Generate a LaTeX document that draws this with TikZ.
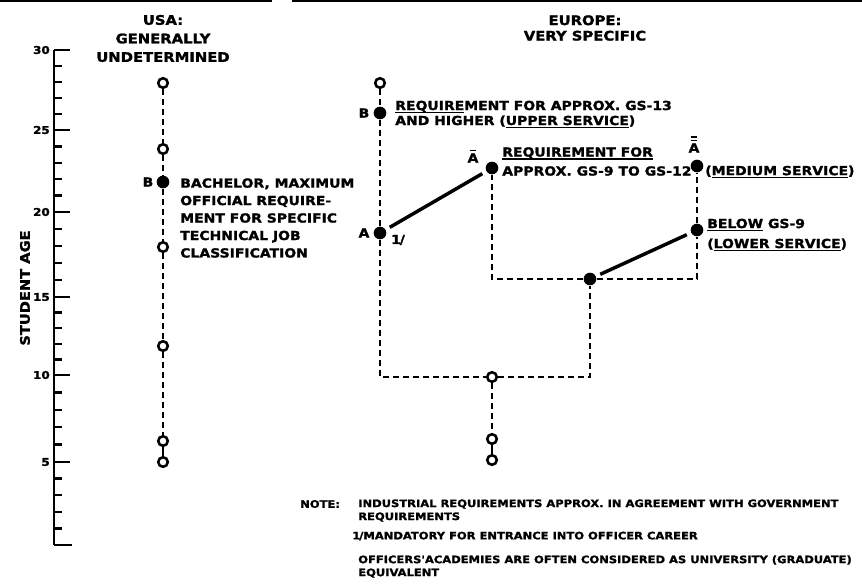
\documentclass[tikz,border=0pt]{standalone}
\usepackage{fontspec}
\setmainfont{DejaVu Sans}
\newfontfamily\labfont{DejaVu Sans Bold}[FakeStretch=1.12,FakeBold=1.6]
\usetikzlibrary{calc}
\newcommand{\ulx}[1]{\setbox0=\hbox{#1}\rlap{\rule[-2.4pt]{\wd0}{1.3pt}}\box0\relax}
\tikzset{
  opencirc/.style={circle, draw=black, line width=1.9pt, fill=white, minimum size=7.2pt, inner sep=0pt},
  fullcirc/.style={circle, fill=black, minimum size=9.5pt, inner sep=0pt},
  dashline/.style={line width=1.5pt, dash pattern=on 4.5pt off 3pt},
  solidline/.style={line width=2.6pt, shorten <=3.5pt, shorten >=3.5pt},
  thinsolid/.style={line width=1.6pt},
  lab/.style={font=\labfont\fontsize{9.35}{13.1}\selectfont, inner sep=0pt, align=left},
  head/.style={font=\labfont\fontsize{9.9}{13.9}\selectfont, inner sep=0pt, align=center},
  notef/.style={font=\labfont\fontsize{7.7}{9.75}\selectfont, inner sep=0pt, align=left},
  axnum/.style={font=\labfont\fontsize{8}{9}\selectfont, inner sep=0pt, anchor=east},
  axisline/.style={line width=1.7pt},
  barline/.style={line width=1.2pt},
}
\begin{document}
\begin{tikzpicture}[x=0.75pt,y=-0.75pt]
\useasboundingbox (0,0) rectangle (862,583);
% top rule
\draw[line width=1.6pt] (0,1) -- (272,1);
\draw[line width=1.6pt] (292,1) -- (862,1);

% axis
\draw[axisline] (54,50) -- (54,545);
\foreach \y in {66,82,98,114,146.4,162.8,179.2,195.6,229,246,263,280,312.6,328.2,343.8,359.4,392.4,409.8,427.2,444.6,478.6,495.2,511.8,528.4}
  \draw[axisline] (54,\y) -- (62,\y);
\foreach \y/\t in {50/30,130/25,212/20,297/15,375/10,462/5}{
  \draw[axisline] (54,\y) -- (70,\y);
  \node[axnum] (ax\t) at (50,\y) {\t};
}
\draw[axisline] (54,545) -- (72,545);
\node[lab, rotate=90, font=\labfont\fontsize{9.8}{12}\selectfont] (ylab) at (25,288) {STUDENT AGE};

% headers
\node[head] (usah) at (163,38.5) {USA:\\GENERALLY\\UNDETERMINED};
\node[head, font=\labfont\fontsize{9.9}{11.6}\selectfont] (euh) at (585,28) {EUROPE:\\VERY SPECIFIC};

% USA column
\node[opencirc] (u28) at (163,83) {};
\node[opencirc] (u24) at (163,149) {};
\node[fullcirc] (uB) at (163,182) {};
\node[opencirc] (u18) at (163,247) {};
\node[opencirc] (u12) at (163,346) {};
\node[opencirc] (u6) at (163,441) {};
\node[opencirc] (u5) at (163,462) {};
\draw[dashline] (u28) -- (u24) -- (uB) -- (u18) -- (u12) -- (u6);
\draw[thinsolid] (u6) -- (u5);
\node[lab] (uBl) at (148,182) {B};
\node[lab, anchor=west] (utext) at (180,218) {BACHELOR, MAXIMUM\\OFFICIAL REQUIRE-\\MENT FOR SPECIFIC\\TECHNICAL JOB\\CLASSIFICATION};

% Europe
\node[opencirc] (e28) at (380,83) {};
\node[fullcirc] (eB) at (380,113) {};
\node[fullcirc] (eA) at (380,233) {};
\coordinate (c1) at (380,377);
\node[opencirc] (e10) at (492,377) {};
\coordinate (c2) at (590,377);
\node[fullcirc] (m16) at (590,279) {};
\coordinate (c3) at (492,279);
\node[fullcirc] (eAbar) at (492,168) {};
\coordinate (c4) at (697,279);
\node[fullcirc] (r19) at (697,230) {};
\node[fullcirc] (rAA) at (697,166) {};
\node[opencirc] (e6) at (492,439) {};
\node[opencirc] (e5) at (492,460) {};

\draw[dashline] (e28) -- (eB) -- (eA) -- (c1) -- (e10) -- (c2) -- (m16);
\draw[dashline] (m16) -- (c3) -- (eAbar);
\draw[dashline] (m16) -- (c4) -- (r19) -- (rAA);
\draw[dashline] (e10) -- (e6);
\draw[thinsolid] (e6) -- (e5);
\draw[solidline] (eA) -- (eAbar);
\draw[solidline] (m16) -- (r19);

% Europe labels
\node[lab] (eBl) at (364,113) {B};
\node[lab, anchor=west, font=\labfont\fontsize{9.35}{11.25}\selectfont] (eBt) at (395,114.5) {\ulx{REQUIRE}MENT FOR APPROX. GS-13\\AND HIGHER (\ulx{UPPER SERVICE})};
\node[lab] (eAl) at (364,233) {A};
\node[lab, font=\labfont\fontsize{9.35}{10}\selectfont] (fn) at (398,240) {1\kern-0.8pt/};
\node[lab] (eAbl) at (473,158) {A};
\draw[barline] ([xshift=-2.6pt,yshift=2pt]eAbl.north) -- ([xshift=2.6pt,yshift=2pt]eAbl.north);
\node[lab, anchor=west, font=\labfont\fontsize{9.35}{14.25}\selectfont] (eAt) at (502,161.5) {\ulx{REQUIREMENT FOR}\\APPROX. GS-9 TO GS-12};
\node[lab] (rAl) at (694,148) {A};
\draw[barline] ([xshift=-2.6pt,yshift=2pt]rAl.north) -- ([xshift=2.6pt,yshift=2pt]rAl.north);
\draw[barline] ([xshift=-2.6pt,yshift=4.6pt]rAl.north) -- ([xshift=2.6pt,yshift=4.6pt]rAl.north);
\node[lab, anchor=west] (rAt) at (705,172) {(\ulx{MEDIUM SERVICE})};
\node[lab, anchor=west, font=\labfont\fontsize{9.35}{15}\selectfont] (r19t) at (707,235) {\ulx{BELOW} GS-9\\(\ulx{LOWER SERVICE})};

% notes
\node[notef, anchor=west] (note) at (300,504) {NOTE:};
\node[notef, anchor=west] (n1) at (358,510.5) {INDUSTRIAL REQUIREMENTS APPROX. IN AGREEMENT WITH GOVERNMENT\\REQUIREMENTS};
\node[notef, anchor=west] (n2) at (352,536) {1\kern-0.8pt/MANDATORY FOR ENTRANCE INTO OFFICER CAREER};
\node[notef, anchor=west] (n3) at (358,566.5) {OFFICERS'ACADEMIES ARE OFTEN CONSIDERED AS UNIVERSITY (GRADUATE)\\EQUIVALENT};
\end{tikzpicture}
\end{document}
